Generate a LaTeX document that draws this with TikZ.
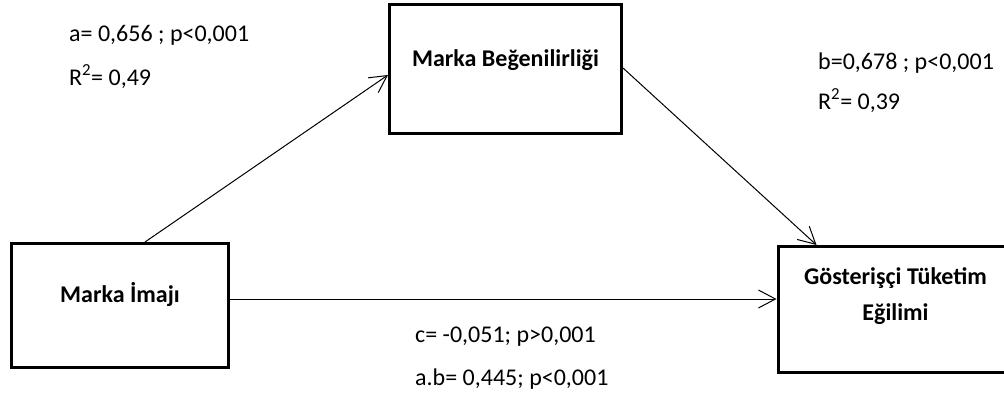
\documentclass[tikz,border=0pt]{standalone}
\usepackage{fontspec}
\setmainfont{Carlito}
\usetikzlibrary{arrows.meta}

\begin{document}
\begin{tikzpicture}[x=1pt, y=-1pt,
		every node/.style={font=\fontsize{24}{32}\selectfont},
		var/.style={draw, line width=3pt, align=center, text height=18pt, text depth=24pt, font=\fontsize{24}{32}\selectfont\bfseries},
		stat/.style={anchor=base west, inner sep=0pt},
		arr/.style={line width=1pt, -{Straight Barb[length=17pt, width=18pt]}}]
			\path[use as bounding box, clip] (0, 0) rectangle (1004, 394);
			\node[var, minimum width=217pt, minimum height=124pt] (imaj) at (120, 305.5) {Marka İmajı};
			\node[var, minimum width=232pt, minimum height=129pt] (begeni) at (505.5, 69) {Marka Beğenilirliği};
			\node[var, minimum width=235pt, minimum height=126pt, text height=46pt] (tuketim) at (895.5, 309.5) {Gösterişçi Tüketim\\[4pt]Eğilimi};
			\draw[arr] ([xshift=25pt]imaj.north) -- ([yshift=-6pt]begeni.west);
			\draw[arr] ([yshift=1pt]begeni.east) -- ([xshift=-79pt]tuketim.north);
			\draw[arr] ([yshift=6.5pt]imaj.east) -- ([yshift=10.5pt]tuketim.west);
			\node[stat] (a) at (69, 41) {a= 0,656 ; p<0,001};
			\node[stat] (ra) at (69, 85) {R\textsuperscript{2}= 0,49};
			\node[stat] (b) at (818, 69) {b=0,678 ; p<0,001};
			\node[stat] (rb) at (818, 109) {R\textsuperscript{2}= 0,39};
			\node[stat] (c) at (415, 342) {c= -0,051; p>0,001};
			\node[stat] (ab) at (415, 385) {a.b= 0,445; p<0,001};
		\end{tikzpicture}
\end{document}
